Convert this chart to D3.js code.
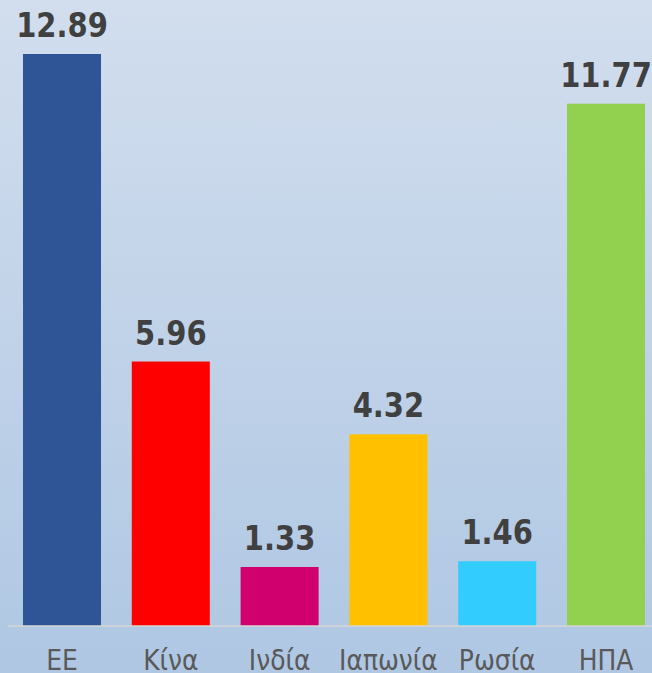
<!DOCTYPE html>
<html><head><meta charset="utf-8">
<script src="https://cdn.jsdelivr.net/npm/d3@7"></script>
<style>html,body{margin:0;padding:0;overflow:hidden;}svg{display:block;}</style>
</head><body>
<script>
const categories = ["ΕΕ", "Κίνα", "Ινδία", "Ιαπωνία", "Ρωσία", "ΗΠΑ"];
const values = [12.89, 5.96, 1.33, 4.32, 1.46, 11.77];
const colors = ["#2F5597", "#FF0000", "#D0006F", "#FFC000", "#33CCFF", "#92D050"];
const valueLabels = ["12.89", "5.96", "1.33", "4.32", "1.46", "11.77"];

const W = 652, H = 673;
const svg = d3.select("body").append("svg").attr("width", W).attr("height", H);
const defs = svg.append("defs");
const grad = defs.append("linearGradient").attr("id", "bg").attr("x1", 0).attr("y1", 0).attr("x2", 0).attr("y2", 1);
grad.append("stop").attr("offset", "0%").attr("stop-color", "#D2DEEE");
grad.append("stop").attr("offset", "100%").attr("stop-color", "#AFC7E3");
svg.append("rect").attr("width", W).attr("height", H).attr("fill", "url(#bg)");

const baseY = 626;
const x = d3.scaleBand().domain(categories).range([7.6, 660.4]).paddingInner(0.283).paddingOuter(0.1415);
const y = d3.scaleLinear().domain([0, 12.89]).range([baseY, 54]);

const sy = 1.15;

svg.selectAll("rect.bar").data(categories).enter().append("rect")
  .attr("class", "bar")
  .attr("x", d => x(d))
  .attr("width", x.bandwidth())
  .attr("y", (d, i) => y(values[i]))
  .attr("height", (d, i) => baseY - y(values[i]))
  .attr("fill", (d, i) => colors[i]);

// axis line
const axis = d3.axisBottom(x).tickSize(0).tickFormat("");
const ax = svg.append("g").attr("transform", `translate(0,${baseY})`).call(axis);
ax.select(".domain").attr("stroke", "#D6D6D6").attr("stroke-width", 1.5).attr("d", `M7.6,0H660.4`);

svg.selectAll("g.vl").data(categories).enter().append("g")
  .attr("transform", (d, i) => `translate(${x(d) + x.bandwidth() / 2},${y(values[i]) - 17}) scale(1,${sy})`)
  .append("text")
  .attr("text-anchor", "middle")
  .attr("font-family", "DejaVu Sans, Verdana, sans-serif")
  .attr("font-weight", "bold")
  .attr("font-size", 29)
  .attr("fill", "#404040")
  .text((d, i) => valueLabels[i]);

svg.selectAll("g.cl").data(categories).enter().append("g")
  .attr("transform", d => `translate(${x(d) + x.bandwidth() / 2},670) scale(1,${sy})`)
  .append("text")
  .attr("text-anchor", "middle")
  .attr("font-family", "DejaVu Sans, Verdana, sans-serif")
  .attr("font-size", 25)
  .attr("fill", "#595959")
  .text(d => d);
</script>
</body></html>
